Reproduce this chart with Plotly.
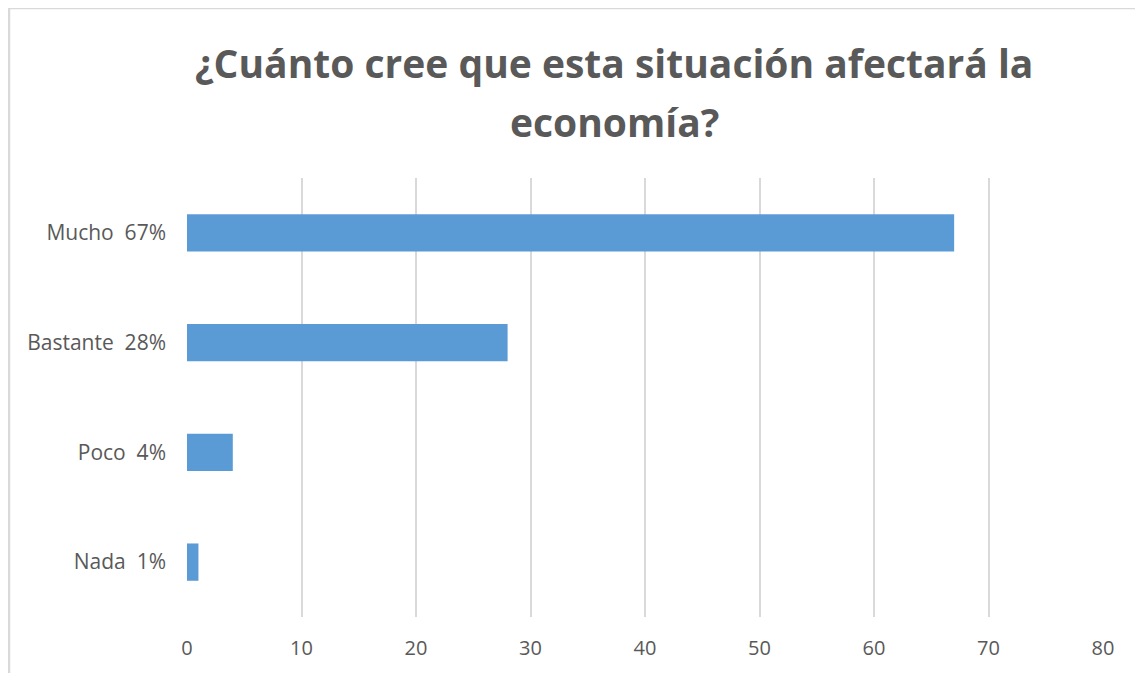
import plotly.graph_objects as go

categories = ["Mucho", "Bastante", "Poco", "Nada"]
values = [67, 28, 4, 1]
pct_labels = ["67%", "28%", "4%", "1%"]
x_ticks = [0, 10, 20, 30, 40, 50, 60, 70, 80]
title_lines = ["¿Cuánto cree que esta situación afectará la", "economía?"]

# page has an 8px body margin; figure sized to fit the window
W, H = 1135, 665
L, R, T, B = 179, 40, 170, 56
pw, ph = W - L - R, H - T - B

def px(xp):
    return (xp - L) / pw

def py(yp):
    return (H - B - yp) / ph

ylabels = [f"{c}\u00a0 {p}" for c, p in zip(categories, pct_labels)]

fig = go.Figure(go.Bar(
    x=values, y=ylabels, orientation="h",
    marker=dict(color="#5B9BD5", line=dict(width=0)),
    width=0.34,
))

fig.update_layout(
    width=W, height=H,
    margin=dict(l=L, r=R, t=T, b=B),
    paper_bgcolor="white", plot_bgcolor="white",
    showlegend=False,
    font=dict(family="Open Sans", color="#595959"),
    xaxis=dict(range=[0, 80], tickvals=x_ticks, showgrid=True,
               gridcolor="#D9D9D9", gridwidth=1.5, zeroline=False,
               showline=False, ticks="", tickfont=dict(size=20, color="#595959"),
               ticklabelstandoff=17, fixedrange=True),
    yaxis=dict(categoryorder="array", categoryarray=ylabels[::-1],
               showgrid=False, zeroline=False, showline=False, ticks="",
               tickfont=dict(size=21, color="#595959"), ticklabelstandoff=20,
               range=[-0.5, 3.5]),
)

for txt, ycen in zip(title_lines, [55, 114]):
    fig.add_annotation(
        text=f"<b>{txt}</b>",
        xref="paper", yref="paper",
        x=px(606), y=py(ycen),
        xanchor="center", yanchor="middle", showarrow=False,
        font=dict(size=39, color="#595959", family="Open Sans"),
    )

fig.add_shape(type="rect", xref="paper", yref="paper",
              x0=px(1), x1=px(1300),
              y0=py(720), y1=py(0),
              line=dict(color="#D9D9D9", width=2.5), fillcolor="rgba(0,0,0,0)",
              layer="below")

fig.write_html("out.html")
